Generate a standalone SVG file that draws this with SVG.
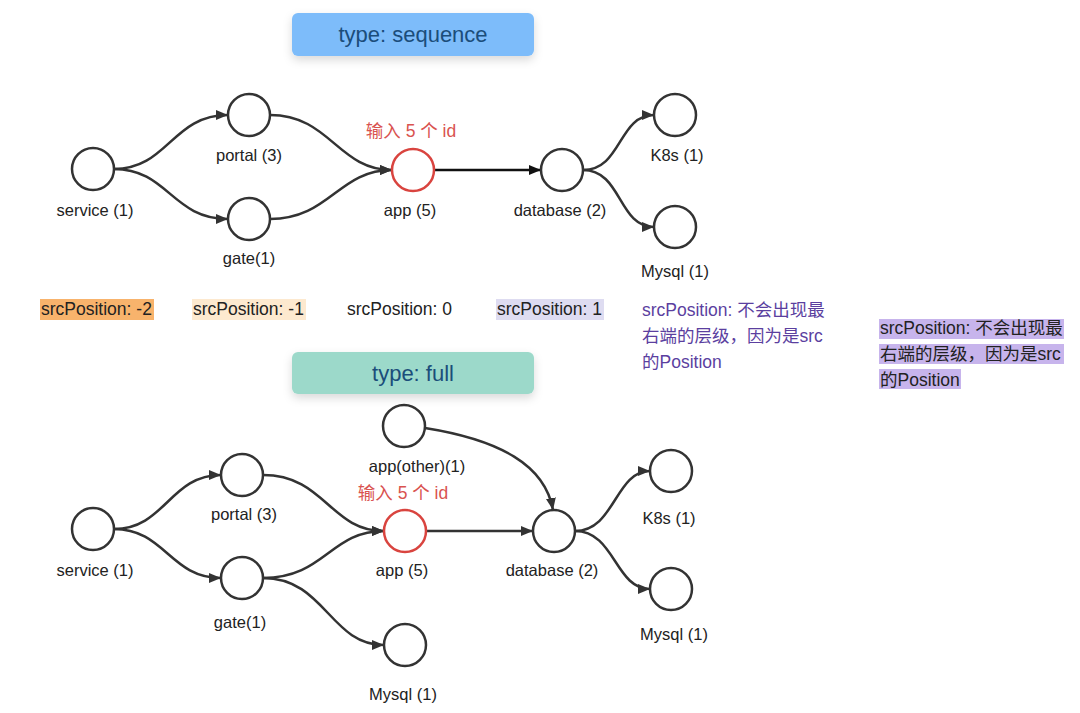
<svg xmlns="http://www.w3.org/2000/svg" width="1080" height="713" viewBox="0 0 1080 713">
<defs>
<marker id="arr" markerUnits="userSpaceOnUse" markerWidth="14" markerHeight="12" refX="12" refY="5" orient="auto">
<path d="M0,0 L12,5 L0,10 z" fill="#333"/>
</marker>
<marker id="arrk" markerUnits="userSpaceOnUse" markerWidth="14" markerHeight="12" refX="12" refY="5" orient="auto">
<path d="M0,0 L12,5 L0,10 z" fill="#111"/>
</marker>
<filter id="sh" x="-20%" y="-40%" width="140%" height="200%">
<feDropShadow dx="0" dy="4" stdDeviation="5" flood-color="#000" flood-opacity="0.15"/>
</filter>
</defs>
<style>
text{font-family:"Liberation Sans","Noto Sans CJK SC",sans-serif;font-size:16.5px;fill:#222}
.lbl{text-anchor:middle}
.leg{font-size:17.5px}
.title{font-size:22px;fill:#1b4d7a;text-anchor:middle}
.red{fill:#d9534f;text-anchor:middle;font-size:17.5px}
.note{font-size:17.5px}
.pur{fill:#5b3f9f}
.n{fill:#fff;stroke:#333;stroke-width:2.5}
.nr{fill:#fff;stroke:#d9443f;stroke-width:2.5}
.e{fill:none;stroke:#333;stroke-width:2.5;marker-end:url(#arr)}
.ek{fill:none;stroke:#111;stroke-width:2.5;marker-end:url(#arrk)}
</style>
<rect width="1080" height="713" fill="#fff"/>

<g id="title-sequence">
<rect x="292" y="13" width="242" height="43" rx="6" fill="#7dbcfa" filter="url(#sh)"/>
<text class="title" x="413" y="42">type: sequence</text>
</g>
<g id="title-full">
<rect x="292" y="352" width="242" height="42" rx="6" fill="#9cd9ca" filter="url(#sh)"/>
<text class="title" x="413" y="381">type: full</text>
</g>

<g id="connectors">
<path class="e" d="M114,169 C168,169 172,115 228,115"/>
<path class="e" d="M114,169 C168,169 172,219 228,219"/>
<path class="e" d="M270,115 C330,115 338,170 392,170"/>
<path class="e" d="M270,219 C330,219 338,170 392,170"/>
<path class="ek" d="M434,170 L541,170"/>
<path class="e" d="M583,170 C622,170 618,115 654,115"/>
<path class="e" d="M583,170 C622,170 618,227 654,227"/>

<path class="e" d="M114,529 C165,529 170,475 221,475"/>
<path class="e" d="M114,529 C165,529 170,578 221,578"/>
<path class="e" d="M263,475 C325,475 330,531 384,531"/>
<path class="e" d="M263,578 C325,578 330,531 384,531"/>
<path class="e" d="M263,578 C325,578 330,645 384,645"/>
<path class="e" d="M426,531 L533,531"/>
<path class="e" d="M425,428 C500,440 545,465 553,510"/>
<path class="e" d="M575,531 C615,531 615,471 650,471"/>
<path class="e" d="M575,531 C615,531 615,589 650,589"/>
</g>

<g id="s-service"><circle class="n" cx="93" cy="169" r="21"/><text class="lbl" x="95" y="216">service (1)</text></g>
<g id="s-portal"><circle class="n" cx="249" cy="115" r="21"/><text class="lbl" x="249" y="161">portal (3)</text></g>
<g id="s-gate"><circle class="n" cx="249" cy="219" r="21"/><text class="lbl" x="249" y="264">gate(1)</text></g>
<g id="s-app"><circle class="nr" cx="413" cy="170" r="21"/><text class="lbl" x="410" y="216">app (5)</text><text class="red" x="411" y="137">输入 5 个 id</text></g>
<g id="s-database"><circle class="n" cx="562" cy="170" r="21"/><text class="lbl" x="560" y="216">database (2)</text></g>
<g id="s-k8s"><circle class="n" cx="675" cy="115" r="21"/><text class="lbl" x="677" y="161">K8s (1)</text></g>
<g id="s-mysql"><circle class="n" cx="675" cy="227" r="21"/><text class="lbl" x="675" y="277">Mysql (1)</text></g>

<g id="legend">
<rect x="40" y="299" width="114" height="21" fill="#f8b36c"/>
<text class="leg" x="41" y="315">srcPosition: -2</text>
<rect x="192" y="299" width="114" height="21" fill="#fde9cf"/>
<text class="leg" x="193" y="315">srcPosition: -1</text>
<text class="leg" x="347" y="315">srcPosition: 0</text>
<rect x="496" y="299" width="108" height="21" fill="#dedcf1"/>
<text class="leg" x="497" y="315">srcPosition: 1</text>
</g>

<g id="note-1">
<text class="note pur" x="642" y="316">srcPosition: 不会出现最</text>
<text class="note pur" x="642" y="342">右端的层级，因为是src</text>
<text class="note pur" x="642" y="368">的Position</text>
</g>
<g id="note-2">
<rect x="879" y="319" width="185" height="20" fill="#c7b4ec"/>
<rect x="879" y="344" width="185" height="20" fill="#c7b4ec"/>
<rect x="879" y="369" width="82" height="20" fill="#c7b4ec"/>
<text class="note" x="880" y="334">srcPosition: 不会出现最</text>
<text class="note" x="880" y="360">右端的层级，因为是src</text>
<text class="note" x="880" y="386">的Position</text>
</g>

<g id="f-service"><circle class="n" cx="93" cy="529" r="21"/><text class="lbl" x="95" y="576">service (1)</text></g>
<g id="f-portal"><circle class="n" cx="242" cy="475" r="21"/><text class="lbl" x="244" y="520">portal (3)</text></g>
<g id="f-gate"><circle class="n" cx="242" cy="578" r="21"/><text class="lbl" x="240" y="628">gate(1)</text></g>
<g id="f-appother"><circle class="n" cx="404" cy="426" r="21"/><text class="lbl" x="417" y="472">app(other)(1)</text></g>
<g id="f-app"><circle class="nr" cx="405" cy="531" r="21"/><text class="lbl" x="402" y="576">app (5)</text><text class="red" x="403" y="499">输入 5 个 id</text></g>
<g id="f-mysql-l"><circle class="n" cx="405" cy="645" r="21"/><text class="lbl" x="403" y="700">Mysql (1)</text></g>
<g id="f-database"><circle class="n" cx="554" cy="531" r="21"/><text class="lbl" x="552" y="576">database (2)</text></g>
<g id="f-k8s"><circle class="n" cx="671" cy="471" r="21"/><text class="lbl" x="669" y="524">K8s (1)</text></g>
<g id="f-mysql-r"><circle class="n" cx="671" cy="589" r="21"/><text class="lbl" x="674" y="640">Mysql (1)</text></g>
</svg>
